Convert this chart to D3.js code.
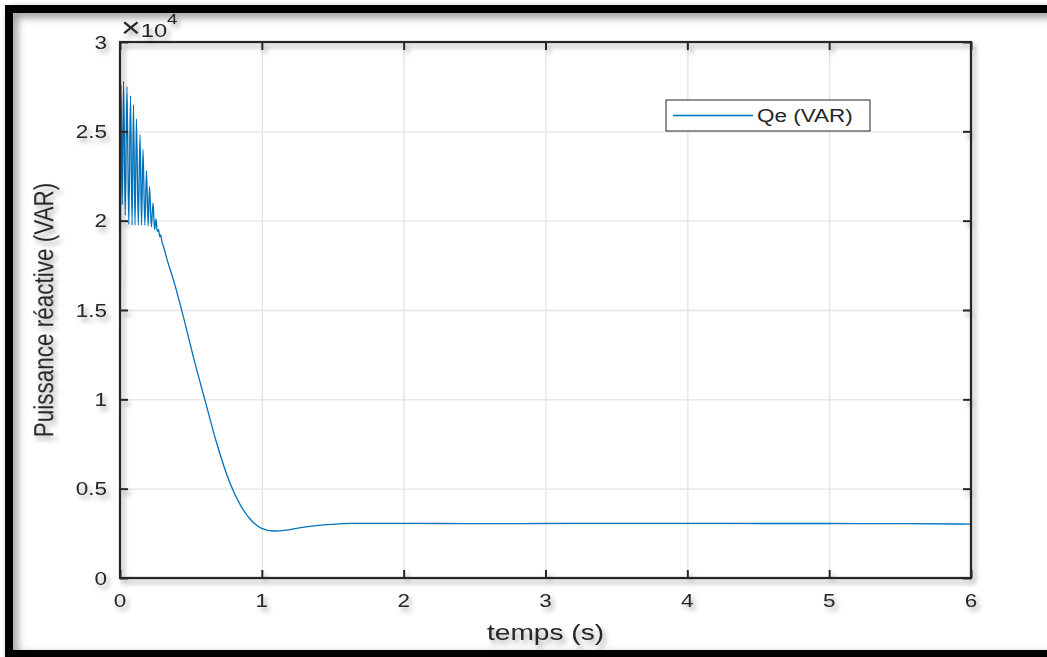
<!DOCTYPE html>
<html>
<head>
<meta charset="utf-8">
<script src="https://cdn.jsdelivr.net/npm/d3@7"></script>
<style>
  body { margin: 0; background: #fff; }
  svg { display: block; }
  text { font-family: "Liberation Sans", Arial, sans-serif; fill: #262626; }
</style>
</head>
<body>
<svg width="1047" height="657"></svg>
<script>
// temps (s) et puissance réactive Qe (VAR)
var timeS = [0, 0.007, 0.016, 0.025, 0.037, 0.049, 0.062, 0.074, 0.085, 0.095, 0.106, 0.116, 0.129,
  0.141, 0.152, 0.162, 0.175, 0.187, 0.198, 0.208, 0.221, 0.233, 0.244, 0.254, 0.262, 0.272, 0.280,
  0.287, 0.296, 0.305, 0.329, 0.38, 0.447, 0.517, 0.599, 0.682, 0.776, 0.846, 0.917, 0.999, 1.087,
  1.17, 1.246, 1.34, 1.434, 1.622, 2.0, 2.5, 3.0, 3.5, 4.0, 4.5, 5.0, 5.5, 6.0];
var qeVar = [0, 27600, 20900, 27800, 20300, 27500, 19800, 27000, 19750, 26500, 19750, 25700, 19750,
  24800, 19750, 24000, 19750, 22800, 19700, 21900, 19650, 21000, 19500, 20100, 19400, 19500, 19100,
  19200, 18800, 18600, 17900, 16600, 14620, 12380, 9960, 7540, 5300, 4120, 3300, 2780, 2630,
  2680, 2780, 2890, 2970, 3060, 3060, 3040, 3050, 3060, 3060, 3050, 3050, 3040, 3020];

var xTicks = [0, 1, 2, 3, 4, 5, 6];
var yTicks = [0, 5000, 10000, 15000, 20000, 25000, 30000];
var yTickLabels = ["0", "0.5", "1", "1.5", "2", "2.5", "3"];
var seriesName = "Qe (VAR)";

var svg = d3.select("svg");
var pl = 120, pr = 971, pt = 42, pb = 578;
var sx = 1.25; // le texte de l'image est étiré horizontalement

var x = d3.scaleLinear().domain([0, 6]).range([pl, pr]);
var y = d3.scaleLinear().domain([0, 30000]).range([pb, pt]);

var defs = svg.append("defs");
var sh = defs.append("filter").attr("id", "shadow")
  .attr("x", "-20%").attr("y", "-20%").attr("width", "140%").attr("height", "140%");
sh.append("feDropShadow").attr("dx", 3).attr("dy", 4).attr("stdDeviation", 2.5)
  .attr("flood-color", "#000").attr("flood-opacity", 0.35);
var shf = defs.append("filter").attr("id", "frameShadow")
  .attr("x", "-5%").attr("y", "-5%").attr("width", "110%").attr("height", "110%");
shf.append("feDropShadow").attr("dx", 4).attr("dy", 4).attr("stdDeviation", 4)
  .attr("flood-color", "#000").attr("flood-opacity", 0.45);

// cadre noir
var frame = svg.append("g").attr("filter", "url(#frameShadow)");
frame.append("rect").attr("x", 5).attr("y", 5).attr("width", 1060).attr("height", 8).attr("fill", "#000");
frame.append("rect").attr("x", 5).attr("y", 5).attr("width", 8).attr("height", 660).attr("fill", "#000");
frame.append("rect").attr("x", 5).attr("y", 650).attr("width", 1060).attr("height", 10).attr("fill", "#000");

// grille
svg.append("g")
  .attr("transform", "translate(0," + pb + ")")
  .call(d3.axisBottom(x).tickValues(xTicks).tickSize(-(pb - pt)).tickFormat(""))
  .call(function(g) {
    g.select(".domain").remove();
    g.selectAll("line").attr("stroke", "#e3e3e3").attr("stroke-width", 1.3);
  });
svg.append("g")
  .attr("transform", "translate(" + pl + ",0)")
  .call(d3.axisLeft(y).tickValues(yTicks).tickSize(-(pr - pl)).tickFormat(""))
  .call(function(g) {
    g.select(".domain").remove();
    g.selectAll("line").attr("stroke", "#e3e3e3").attr("stroke-width", 1.3);
  });

// courbe
var line = d3.line()
  .curve(d3.curveMonotoneX)
  .x(function(d, i) { return x(timeS[i]); })
  .y(function(d) { return y(d); });
svg.append("path")
  .attr("d", line(qeVar))
  .attr("fill", "none")
  .attr("stroke", "#0072BD")
  .attr("stroke-width", 1.3);

// boîte des axes + graduations
var axes = svg.append("g").attr("filter", "url(#shadow)");
axes.append("rect")
  .attr("x", pl).attr("y", pt).attr("width", pr - pl).attr("height", pb - pt)
  .attr("fill", "none").attr("stroke", "#262626").attr("stroke-width", 2.2);
function tickStyle(g) {
  g.select(".domain").remove();
  g.selectAll("line").attr("stroke", "#262626").attr("stroke-width", 2);
}
axes.append("g").attr("transform", "translate(0," + pb + ")")
  .call(d3.axisBottom(x).tickValues(xTicks).tickSize(-8).tickFormat("")).call(tickStyle);
axes.append("g").attr("transform", "translate(0," + pt + ")")
  .call(d3.axisTop(x).tickValues(xTicks).tickSize(-8).tickFormat("")).call(tickStyle);
axes.append("g").attr("transform", "translate(" + pl + ",0)")
  .call(d3.axisLeft(y).tickValues(yTicks).tickSize(-8).tickFormat("")).call(tickStyle);
axes.append("g").attr("transform", "translate(" + pr + ",0)")
  .call(d3.axisRight(y).tickValues(yTicks).tickSize(-8).tickFormat("")).call(tickStyle);

// étiquettes
var labels = svg.append("g").attr("filter", "url(#shadow)");
labels.selectAll(".xl").data(xTicks).enter().append("text")
  .attr("class", "xl")
  .attr("transform", function(d) { return "translate(" + x(d) + ",607) scale(" + sx + ",1)"; })
  .attr("text-anchor", "middle")
  .style("font-size", "18px")
  .text(function(d) { return d; });
labels.selectAll(".yl").data(yTicks).enter().append("text")
  .attr("class", "yl")
  .attr("transform", function(d) { return "translate(107," + (y(d) + 6.5) + ") scale(" + sx + ",1)"; })
  .attr("text-anchor", "end")
  .style("font-size", "18px")
  .text(function(d, i) { return yTickLabels[i]; });

var expo = labels.append("text")
  .attr("transform", "translate(121,37) scale(" + sx + ",1)")
  .style("font-size", "19px");
expo.append("tspan").style("font-size", "27px").text("\u00d7");
expo.append("tspan").text("10");
expo.append("tspan").attr("dy", -13).style("font-size", "15px").text("4");

labels.append("text")
  .attr("transform", "translate(" + ((pl + pr) / 2) + ",640) scale(" + sx + ",1)")
  .attr("text-anchor", "middle")
  .style("font-size", "22.5px")
  .text("temps (s)");
labels.append("text")
  .attr("transform", "translate(53," + ((pt + pb) / 2) + ") scale(" + sx + ",1) rotate(-90)")
  .attr("text-anchor", "middle")
  .style("font-size", "22.5px")
  .text("Puissance réactive (VAR)");

// légende
var lg = svg.append("g").attr("transform", "translate(666,100)");
lg.append("rect").attr("width", 204).attr("height", 31)
  .attr("fill", "#fff").attr("stroke", "#262626").attr("stroke-width", 1);
lg.append("line").attr("x1", 7).attr("x2", 87).attr("y1", 15.5).attr("y2", 15.5)
  .attr("stroke", "#0072BD").attr("stroke-width", 1.3);
lg.append("text")
  .attr("transform", "translate(91,22) scale(" + sx + ",1)")
  .style("font-size", "18px")
  .text(seriesName);
</script>
</body>
</html>
